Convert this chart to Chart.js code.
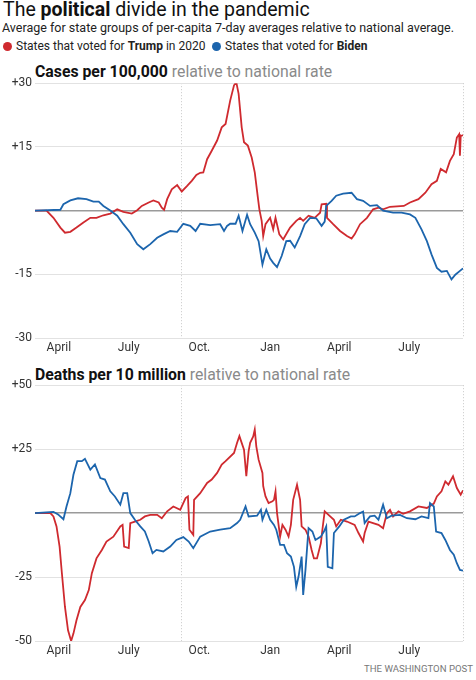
<!DOCTYPE html>
<html>
<head>
<meta charset="utf-8">
<script src="https://cdn.jsdelivr.net/npm/chart.js@4.4.1/dist/chart.umd.min.js"></script>
<style>
  html, body { margin: 0; padding: 0; background: #fff; }
  body { width: 476px; height: 680px; position: relative; overflow: hidden; font-family: Roboto, "Noto Sans", sans-serif; color: #111; }
  .t { position: absolute; white-space: nowrap; line-height: 1; }
  #title { left: 3px; top: 0px; font-size: 19.5px; }
  #sub { left: 2px; top: 22px; font-size: 12.5px; color: #222; }
  .leg { top: 40px; font-size: 12px; color: #222; }
  .dot { display: inline-block; width: 9px; height: 9px; border-radius: 50%; margin-right: 4px; vertical-align: -1px; }
  .head { left: 35px; font-size: 15.8px; }
  .head .g { color: #8a8a8a; }
  #credit { right: 3px; top: 664px; font-size: 9.6px; color: #777; }
  canvas { position: absolute; left: 0; }
</style>
</head>
<body>
<div class="t" id="title">The <b>political</b> divide in the pandemic</div>
<div class="t" id="sub">Average for state groups of per-capita 7-day averages relative to national average.</div>
<div class="t leg" style="left:3px"><span class="dot" style="background:#cf2a2f"></span>States that voted for <b>Trump</b> in 2020</div>
<div class="t leg" style="left:212px"><span class="dot" style="background:#1c65ad"></span>States that voted for <b>Biden</b></div>
<div class="t head" style="top:64px"><b>Cases per 100,000</b> <span class="g">relative to national rate</span></div>
<div class="t head" style="top:367px"><b>Deaths per 10 million</b> <span class="g">relative to national rate</span></div>
<div class="t" id="credit">THE WASHINGTON POST</div>

<div style="position:absolute;left:0;top:73px;width:476px;height:287px"><canvas id="casesChart"></canvas></div>
<div style="position:absolute;left:0;top:375px;width:476px;height:287px"><canvas id="deathsChart"></canvas></div>

<script>
// x axis: days since March 1, 2020
const monthDays = [31, 122, 214, 306, 396, 487];
const monthLabels = ["April", "July", "Oct.", "Jan", "April", "July"];
const guideDays = [191, 557];
const lastDay = 557;

const casesTicks = [-30, -15, 0, 15, 30];
const deathsTicks = [-50, -25, 0, 25, 50];

// Cases per 100,000, relative to national rate
const casesTrumpDays = [0, 15, 24, 33, 39, 46, 54, 63, 72, 80, 89, 98, 107, 115, 126, 133, 139, 148, 154, 161, 165, 168, 172, 178, 185, 191, 198, 204, 210, 215, 219, 224, 230, 237, 243, 248, 254, 259, 262, 265, 269, 272, 277, 282, 286, 290, 292, 295, 297, 300, 306, 310, 313, 318, 323, 328, 332, 340, 345, 349, 356, 364, 371, 373, 379, 380, 388, 397, 406, 412, 416, 423, 432, 440, 447, 453, 462, 480, 488, 499, 508, 516, 523, 528, 535, 540, 545, 549, 552, 553, 554, 557];
const casesTrump = [0, 0, -1.7, -4.0, -5.2, -5.0, -4.0, -2.8, -1.7, -1.7, -1.1, -0.7, 0.3, -0.3, -0.7, 0.1, 1.1, 1.9, 2.4, 1.9, 0.7, 0.2, 2.7, 5.0, 6.0, 4.5, 5.8, 7.0, 8.4, 8.9, 9.0, 12.1, 14.1, 16.5, 19.6, 20.4, 25.9, 29.5, 30.2, 27.5, 19.6, 16.1, 15.3, 12.5, 9.0, 3.1, 0.3, -2.4, -6.0, -3.2, -1.7, -4.4, -1.7, -5.6, -6.8, -5.2, -4.0, -2.4, -1.7, -2.4, -1.2, -1.7, -0.5, 1.5, 1.6, -1.7, -3.2, -4.8, -6.0, -6.6, -5.6, -3.2, -1.7, 0.3, 0.7, 0.3, 0.9, 1.1, 1.9, 2.7, 4.2, 6.2, 7.0, 9.8, 9.0, 11.7, 13.3, 17.2, 18.0, 12.9, 17.5, 17.8];

const casesBidenDays = [0, 33, 37, 46, 56, 67, 76, 83, 89, 98, 107, 115, 124, 133, 141, 150, 159, 167, 176, 185, 193, 202, 209, 215, 228, 241, 246, 250, 254, 261, 265, 270, 276, 280, 286, 291, 296, 301, 306, 310, 315, 321, 327, 332, 338, 345, 351, 358, 366, 373, 377, 379, 386, 392, 401, 412, 419, 427, 436, 445, 453, 466, 477, 488, 495, 503, 510, 516, 523, 529, 536, 542, 547, 553, 557];
const casesBiden = [0, 0.2, 1.5, 2.4, 2.9, 2.7, 2.1, 2.1, 1.1, 0, -1.2, -3.2, -5.2, -7.9, -9.1, -7.9, -6.4, -5.6, -4.8, -5.0, -3.1, -3.6, -4.8, -3.1, -3.4, -3.2, -4.8, -3.6, -3.1, -3.1, -1.2, -4.8, -1.0, -3.2, -5.2, -7.2, -12.7, -9.1, -11.3, -12.3, -13.3, -10.7, -7.2, -7.1, -8.7, -6.0, -3.2, -1.7, -1.8, -3.6, -2.6, 1.1, 2.3, 3.5, 4.0, 4.2, 2.7, 2.3, 1.1, 1.3, 0, -0.5, -0.5, -0.9, -1.7, -4.4, -7.2, -10.3, -13.5, -14.4, -14.2, -16.2, -15.1, -14.2, -13.6];

// Deaths per 10 million, relative to national rate
const deathsTrumpDays = [0, 20, 24, 28, 32, 35, 39, 43, 47, 50, 54, 59, 65, 70, 74, 80, 87, 93, 102, 111, 114, 116, 122, 124, 130, 137, 143, 150, 159, 165, 172, 180, 189, 196, 199, 201, 206, 207, 215, 224, 230, 237, 243, 248, 259, 263, 266, 272, 275, 278, 280, 284, 286, 288, 291, 296, 297, 300, 304, 309, 311, 313, 315, 319, 322, 326, 330, 333, 336, 341, 345, 347, 352, 356, 360, 363, 367, 372, 374, 377, 382, 389, 392, 398, 406, 416, 421, 427, 429, 434, 440, 447, 453, 458, 462, 466, 473, 479, 488, 499, 510, 519, 523, 529, 534, 538, 544, 549, 554, 557];
const deathsTrump = [0, 0, -1.3, -5.2, -13.1, -23.5, -36.7, -45.8, -50, -47.1, -41.9, -36.7, -34, -30.1, -23.5, -17.7, -14.4, -11.1, -9.2, -5.2, -4.6, -13.1, -13.7, -3.9, -3.3, -2.6, -1.3, -0.7, -0.7, -2.0, 0.7, 2.6, 1.3, 5.9, 6.5, -6.5, -8.5, 5.2, 7.8, 11.8, 13.1, 15.7, 19.0, 20.3, 23.5, 27.5, 30.1, 24.8, 14.4, 24.2, 27.5, 30, 32.7, 26.1, 20.9, 15.7, 10.5, 6.5, 3.9, 4.6, 5.2, 8.5, 0, -9.2, -4.6, -6.5, -9.2, -4.6, 5.2, 11.1, 5.2, -5.2, -6.5, -9.2, -14.4, -17.7, -17.7, -11.8, -6.5, 0.7, -0.7, -2.6, -5.2, -2.6, -3.3, -4.6, -7.8, -11.1, -7.8, -3.3, -3.9, -4.6, -5.9, 0, 1.3, -1.3, 0.7, -0.3, 0.7, 2.6, 2.0, 3.7, 6.5, 8.5, 12.4, 11.1, 14.4, 9.8, 7.2, 8.9];

const deathsBidenDays = [0, 24, 30, 37, 41, 46, 50, 55, 61, 65, 72, 78, 85, 91, 98, 104, 111, 115, 120, 124, 130, 137, 143, 148, 153, 158, 167, 176, 184, 193, 200, 206, 215, 228, 241, 254, 263, 267, 274, 278, 289, 294, 296, 301, 306, 311, 314, 319, 324, 328, 333, 337, 340, 343, 347, 349, 352, 356, 361, 365, 372, 376, 379, 381, 387, 389, 396, 402, 411, 416, 423, 427, 429, 436, 442, 447, 453, 458, 464, 475, 484, 495, 503, 512, 514, 519, 522, 529, 534, 540, 545, 549, 553, 557];
const deathsBiden = [0, 0.5, -0.5, -2.4, 2.6, 7.8, 15.0, 20.3, 20.3, 21.2, 17, 19, 13.7, 13.1, 8.5, 6.5, 3.3, 7.8, 7.8, 0, -2.6, -5.2, -7.2, -11.1, -15.7, -14.4, -15.0, -13.1, -10.5, -9.4, -11.1, -13.7, -9.2, -7.2, -6.5, -5.9, -3.9, -2.6, 2.6, -1.3, -1.0, 1.3, -2.6, 1.3, -2.6, -4.6, -6.5, -12.4, -12.4, -15.7, -17, -21, -28.8, -24.8, -17, -32, -22.2, -5.9, -7.2, -10.5, -9.2, -7.2, -5.2, -21, -21.6, -7.8, -5.2, -2.6, -1.3, -1.3, 0, 0.6, -3.9, -1.3, -1.0, -2.6, 3.3, -2.0, -1.0, -0.7, -2.0, -2.4, -1.3, -2.0, 3.9, 2.6, -7.2, -7.8, -10.5, -14.4, -16.3, -19.6, -22.2, -22.5];

const trumpColor = "#cf2a2f";
const bidenColor = "#1c65ad";

function pairs(days, vals) {
    return days.map((d, i) => ({ x: d, y: vals[i] }));
}

function makeChart(id, trumpDays, trumpVals, bidenDays, bidenVals, yTicks, padTop, xHeight) {
    const ctx = document.getElementById(id);
    return new Chart(ctx, {
        type: "line",
        data: {
            datasets: [
                { label: "Biden", data: pairs(bidenDays, bidenVals), borderColor: bidenColor, borderWidth: 1.8, pointRadius: 0, tension: 0 },
                { label: "Trump", data: pairs(trumpDays, trumpVals), borderColor: trumpColor, borderWidth: 1.8, pointRadius: 0, tension: 0 },
            ],
        },
        options: {
            responsive: true,
            maintainAspectRatio: false,
            animation: false,
            layout: { padding: { top: padTop, right: 13, left: 0, bottom: 0 } },
            plugins: { legend: { display: false }, tooltip: { enabled: false } },
            scales: {
                x: {
                    type: "linear",
                    min: 0,
                    max: lastDay,
                    afterBuildTicks: (axis) => {
                        axis.ticks = monthDays.concat(guideDays).sort((a, b) => a - b).map((v) => ({ value: v }));
                    },
                    afterFit: (axis) => { axis.height = xHeight; },
                    ticks: {
                        autoSkip: false,
                        maxRotation: 0,
                        padding: 3,
                        color: "#333",
                        font: { family: "Roboto", size: 12 },
                        callback: (v) => {
                            const i = monthDays.indexOf(v);
                            return i >= 0 ? monthLabels[i] : "";
                        },
                    },
                    grid: {
                        drawTicks: false,
                        color: (c) => (c.tick && guideDays.includes(c.tick.value) ? "#c8c8c8" : "rgba(0,0,0,0)"),
                        lineWidth: 1,
                    },
                    border: { display: false, dash: [1, 2] },
                },
                y: {
                    min: yTicks[0],
                    max: yTicks[yTicks.length - 1],
                    afterBuildTicks: (axis) => { axis.ticks = yTicks.map((v) => ({ value: v })); },
                    afterFit: (axis) => { axis.width = 35; },
                    ticks: {
                        padding: 3,
                        color: "#333",
                        font: { family: "Roboto", size: 12 },
                        callback: (v) => (v === 0 ? "" : v > 0 ? "+" + v : String(v)),
                    },
                    grid: {
                        drawTicks: false,
                        color: (c) => (c.tick && c.tick.value === 0 ? "#9a9a9a" : "#e2e2e2"),
                        lineWidth: (c) => (c.tick && c.tick.value === 0 ? 1.6 : 1),
                    },
                    border: { display: false },
                },
            },
        },
    });
}

makeChart("casesChart", casesTrumpDays, casesTrump, casesBidenDays, casesBiden, casesTicks, 5, 22);
makeChart("deathsChart", deathsTrumpDays, deathsTrump, deathsBidenDays, deathsBiden, deathsTicks, 6, 21);
</script>
</body>
</html>
